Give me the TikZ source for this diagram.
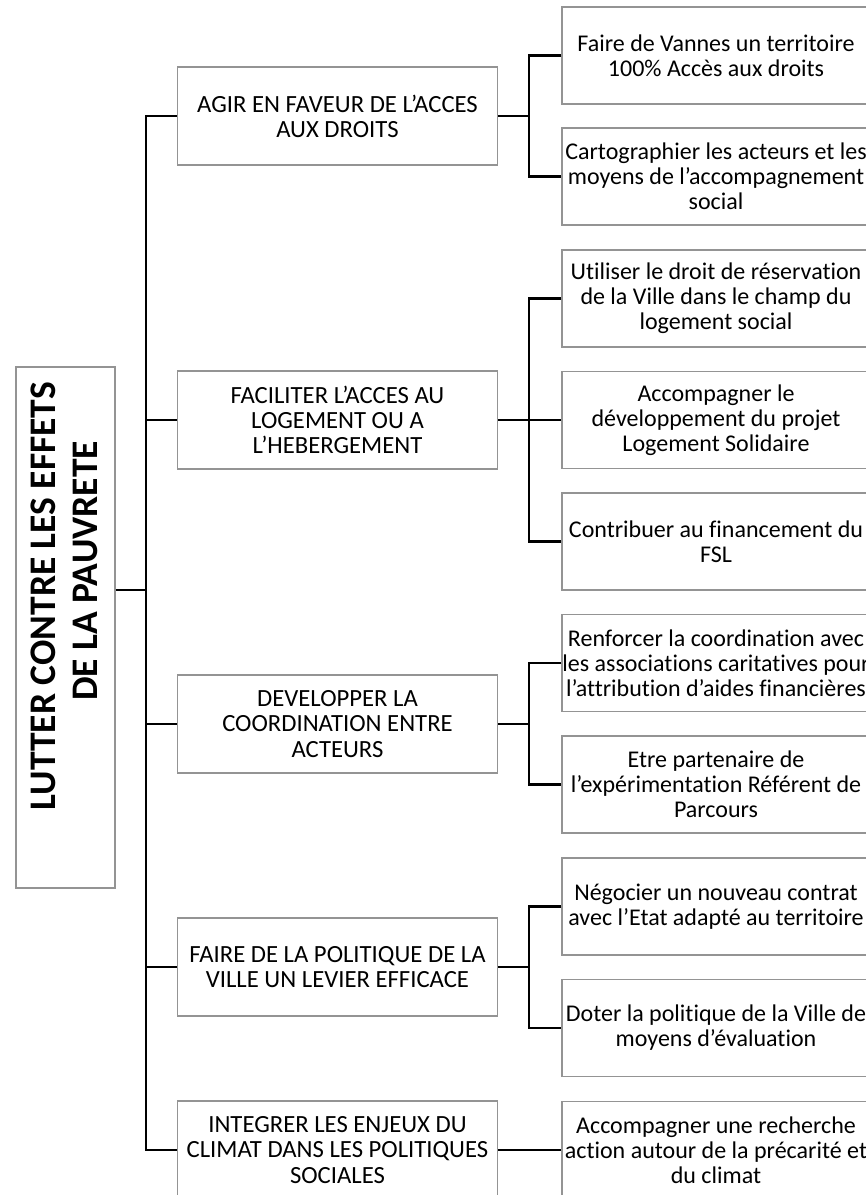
\documentclass[tikz,border=0pt]{standalone}
\usepackage{fontspec}
\setmainfont{Carlito}[Ligatures={NoCommon}]
\newcommand\rl[1]{\makebox[300pt]{#1}}
\begin{document}
\begin{tikzpicture}[x=1pt,y=-1pt,
  box/.style={draw=black!42, line width=1.2pt, fill=white, align=center, inner sep=0pt},
  midbox/.style={box, minimum width=320pt, minimum height=98pt, font=\fontsize{24.7}{25.2}\selectfont},
  rbox/.style={box, minimum width=308pt, minimum height=97pt, font=\fontsize{24}{25}\selectfont},
  rootbox/.style={draw=black!42, line width=1.2pt, fill=white, minimum width=99pt, minimum height=521pt, inner sep=0pt},
  roottext/.style={rotate=90, inner sep=0pt, font=\fontsize{37.5}{42}\selectfont\bfseries},
  conn/.style={draw=black, line width=2.2pt}]
\useasboundingbox (0,0) rectangle (866,1195);
\clip (0,0) rectangle (866,1195);
\fill[white] (0,0) rectangle (866,1195);

% root
\node[rootbox] (root) at (65.5,627.5) {};
\node[roottext] (rootA) at (43,596) {LUTTER CONTRE LES EFFETS};
\node[roottext] (rootB) at (85,571) {DE LA PAUVRETE};

% middle level
\node[midbox] (m1) at (337.5,116) {AGIR EN FAVEUR DE L’ACCES\\AUX DROITS};
\node[midbox] (m2) at (337.5,420) {FACILITER L’ACCES AU\\LOGEMENT OU A\\L’HEBERGEMENT};
\node[midbox] (m3) at (337.5,724) {DEVELOPPER LA\\COORDINATION ENTRE\\ACTEURS};
\node[midbox] (m4) at (337.5,967) {FAIRE DE LA POLITIQUE DE LA\\VILLE UN LEVIER EFFICACE};
\node[midbox] (m5) at (337.5,1150) {INTEGRER LES ENJEUX DU\\CLIMAT DANS LES POLITIQUES\\SOCIALES};

% right level
\node[rbox] (r1) at (716,55.5) {\rl{Faire de Vannes un territoire}\\\rl{100\% Accès aux droits}};
\node[rbox] (r2) at (716,176.5) {\rl{Cartographier les acteurs et les}\\\rl{moyens de l’accompagnement}\\\rl{social}};
\node[rbox] (r3) at (716,298.5) {\rl{Utiliser le droit de réservation}\\\rl{de la Ville dans le champ du}\\\rl{logement social}};
\node[rbox] (r4) at (716,420) {\rl{Accompagner le}\\\rl{développement du projet}\\\rl{Logement Solidaire}};
\node[rbox] (r5) at (716,541.5) {\rl{Contribuer au financement du}\\\rl{FSL}};
\node[rbox] (r6) at (716,663) {\rl{Renforcer la coordination avec}\\\rl{les associations caritatives pour}\\\rl{l’attribution d’aides financières}};
\node[rbox] (r7) at (716,784.5) {\rl{Etre partenaire de}\\\rl{l’expérimentation Référent de}\\\rl{Parcours}};
\node[rbox] (r8) at (716,906.5) {\rl{Négocier un nouveau contrat}\\\rl{avec l’Etat adapté au territoire}};
\node[rbox] (r9) at (716,1028) {\rl{Doter la politique de la Ville de}\\\rl{moyens d’évaluation}};
\node[rbox] (r10) at (716,1150) {\rl{Accompagner une recherche}\\\rl{action autour de la précarité et}\\\rl{du climat}};

% trunk
\coordinate (t) at (146,590);
\draw[conn] (root.east |- t) -- (t);
\draw[conn] (m1.west) -| (t) |- (m5.west);
\draw[conn] (m2.west) -- (m2.west -| t);
\draw[conn] (m3.west) -- (m3.west -| t);
\draw[conn] (m4.west) -- (m4.west -| t);

% groups
\coordinate (j1) at (529,116);
\draw[conn] (m1.east) -- (j1);
\draw[conn] (r1.west) -| (j1) |- (r2.west);
\coordinate (j2) at (529,420);
\draw[conn] (m2.east) -- (r4.west);
\draw[conn] (r3.west) -| (j2) |- (r5.west);
\coordinate (j3) at (529,724);
\draw[conn] (m3.east) -- (j3);
\draw[conn] (r6.west) -| (j3) |- (r7.west);
\coordinate (j4) at (529,967);
\draw[conn] (m4.east) -- (j4);
\draw[conn] (r8.west) -| (j4) |- (r9.west);
\draw[conn] (m5.east) -- (r10.west);
\end{tikzpicture}
\end{document}
